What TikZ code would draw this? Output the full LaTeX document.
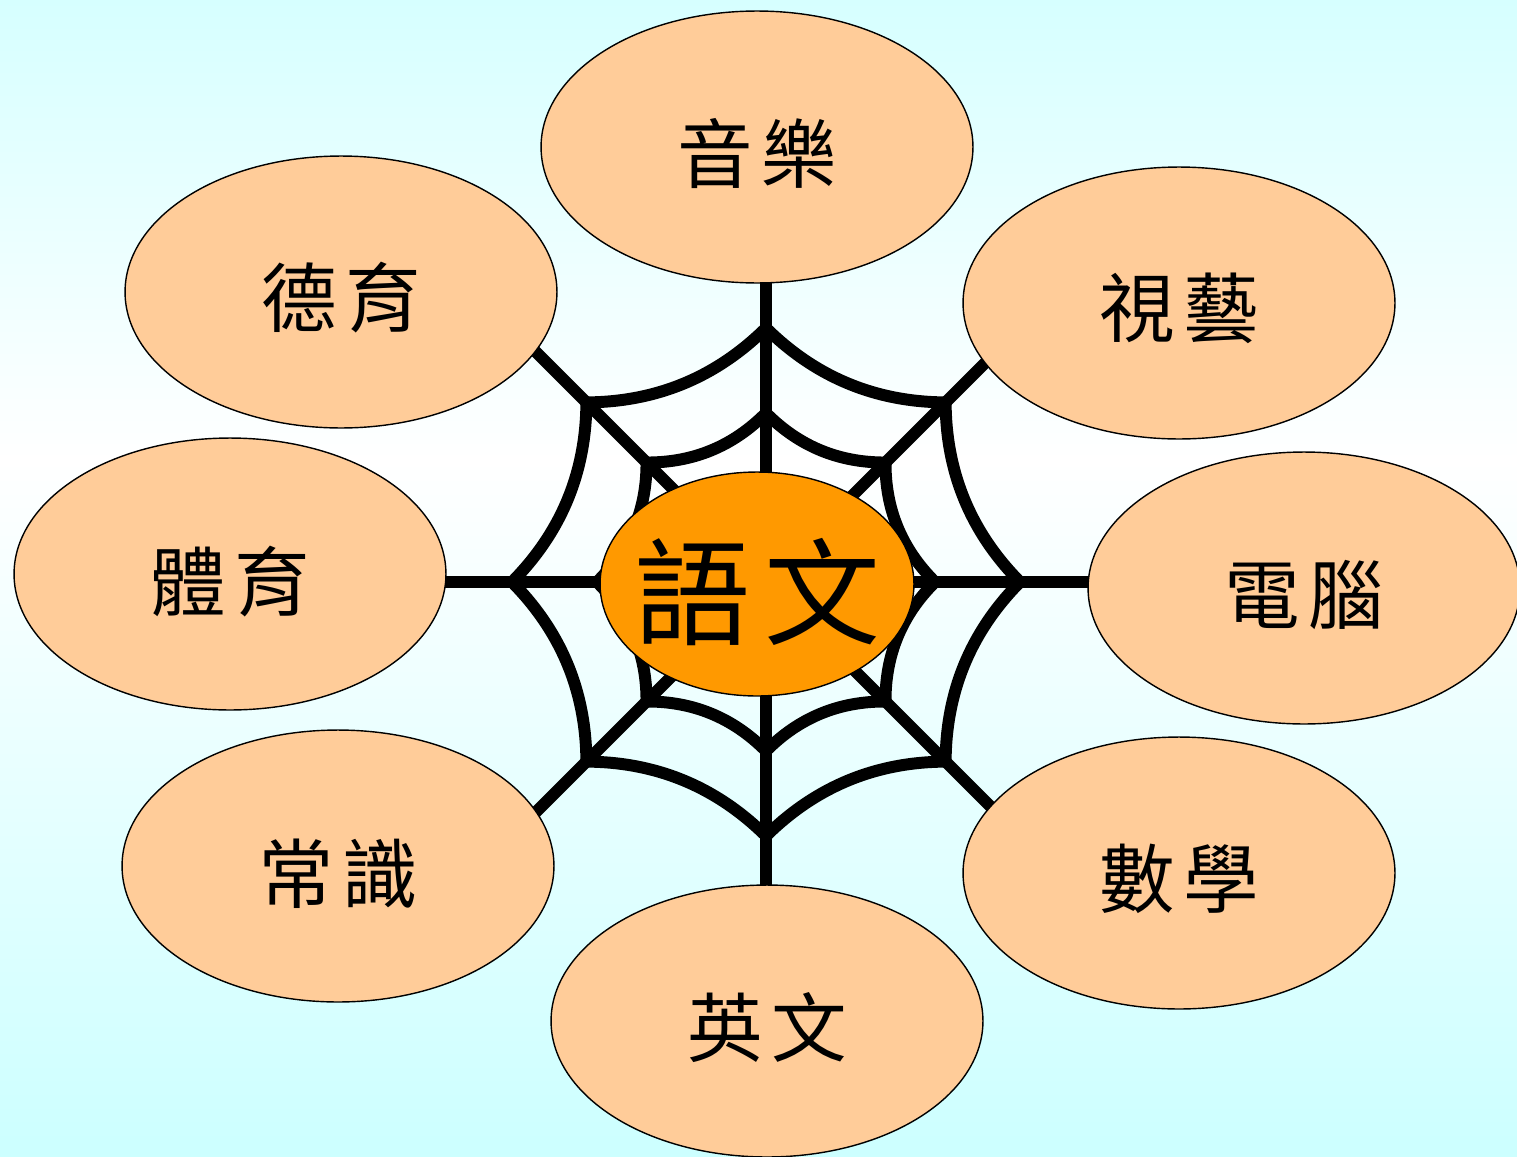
\documentclass[tikz,border=0pt]{standalone}
\usepackage{fontspec}
\usepackage{tikz}
\usetikzlibrary{calc}
\usetikzlibrary{shapes.geometric}
\newfontfamily\cjk{Noto Sans CJK TC}

\definecolor{peach}{HTML}{FFCC99}
\definecolor{amber}{HTML}{FF9900}
\definecolor{skytop}{HTML}{D6FFFF}
\definecolor{skybot}{HTML}{CCFFFF}

\newcommand\subj[3]{\makebox[0pt]{\raisebox{#3}[\height][\depth]{#1\hspace{5pt}#2}}}

\tikzset{
  web/.style={line width=6.8pt, line cap=round, black},
  topic/.style={ellipse, draw, line width=0.8pt, fill=peach, inner sep=0pt,
    minimum width=8.64cm, minimum height=5.44cm, font=\cjk\fontsize{43}{48}\selectfont},
  core/.style={ellipse, draw, line width=0.8pt, fill=amber, inner sep=0pt,
    minimum width=6.28cm, minimum height=4.48cm, font=\cjk\fontsize{66}{70}\selectfont}
}

\begin{document}
\begin{tikzpicture} [x=0.02cm, y=-0.02cm]
\useasboundingbox (0,0) rectangle (1517,1156);
\clip (0,0) rectangle (1517,1156);

% background
\shade[top color=skytop, bottom color=white] (0,0) rectangle (1517,460);
\shade[top color=white, bottom color=skybot] (0,460) rectangle (1517,1156);

% the web
\coordinate (web) at (766,582);
\foreach \a [evaluate=\a as \m using \a+22.5, evaluate=\a as \b using \a+45] in {0,45,...,315} {
  \draw[web] (web) -- ++(\a:420);
  \draw[web] ($(web)+(\a:254)$) .. controls ($(web)+(\a:254)!.667!(\m:195)$) and ($(web)+(\b:254)!.667!(\m:195)$) .. ($(web)+(\b:254)$);
  \draw[web] ($(web)+(\a:169)$) .. controls ($(web)+(\a:169)!.667!(\m:129)$) and ($(web)+(\b:169)!.667!(\m:129)$) .. ($(web)+(\b:169)$);
}

% subjects
\node[topic] (music)    at (757,147)  {\subj{音}{樂}{-0.14cm}};
\node[topic] (moral)    at (341,292)  {\subj{德}{育}{-0.12cm}};
\node[topic] (arts)     at (1179,303) {\subj{視}{藝}{-0.1cm}};
\node[topic] (pe)       at (230,574)  {\subj{體}{育}{-0.16cm}};
\node[topic] (computer) at (1304,588) {\subj{電}{腦}{-0.14cm}};
\node[topic] (general)  at (338,866)  {\subj{常}{識}{-0.16cm}};
\node[topic] (maths)    at (1179,873) {\subj{數}{學}{-0.12cm}};
\node[topic] (english)  at (767,1021) {\subj{英}{文}{-0.14cm}};

\node[core] (chinese) at (757,584) {\makebox[0pt]{\raisebox{-0.16cm}[\height][\depth]{語\hspace{8pt}文}}};
\end{tikzpicture}
\end{document}
